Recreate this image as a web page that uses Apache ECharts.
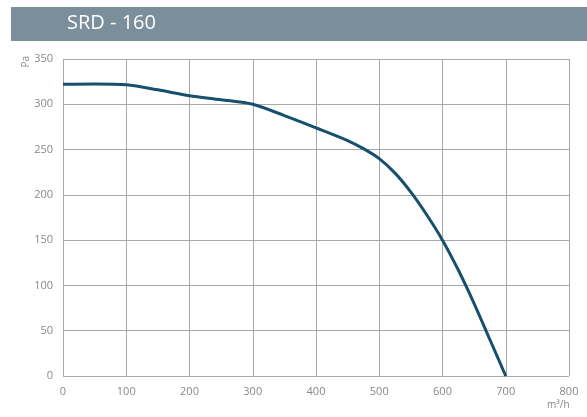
<!DOCTYPE html>
<html>
<head>
<meta charset="utf-8">
<script src="https://cdn.jsdelivr.net/npm/echarts@6/dist/echarts.min.js"></script>
<style>
  html, body { margin: 0; padding: 0; background: #fff; }
  #chart { width: 587px; height: 417px; }
</style>
</head>
<body>
<div id="chart"></div>
<script>
  // airflow (m³/h) vs pressure (Pa)
  var flow = [0, 50, 100, 150, 200, 250, 300, 350, 400, 450, 475, 500, 525, 550, 575, 600, 625, 650, 675, 700]
  var pressure = [322, 322.5, 321.5, 316, 309.5, 305, 300, 287.5, 274, 260, 251, 240, 224, 203, 178, 150, 117, 80, 40, 0]
  var title = 'SRD - 160'

  var chart = echarts.init(document.getElementById('chart'))
  var points = flow.map(function (f, i) { return [f, pressure[i]] })

  chart.setOption({
    animation: false,
    graphic: [
      {
        type: 'rect',
        shape: { x: 11, y: 7, width: 576, height: 34 },
        style: { fill: '#7b8e9b' }
      },
      {
        type: 'text',
        left: 67, top: 13,
        style: { text: title, fill: '#fff', font: '20px "Open Sans", sans-serif' }
      },
      {
        type: 'text',
        left: 21, top: 56,
        rotation: Math.PI / 2,
        style: { text: 'Pa', fill: '#888', font: '10px "Open Sans", sans-serif' }
      },
      {
        type: 'text',
        left: 547, top: 400,
        style: { text: 'm³/h', fill: '#888', font: '10px "Open Sans", sans-serif' }
      }
    ],
    grid: { left: 63, right: 18, top: 59, bottom: 41 },
    xAxis: {
      type: 'value',
      min: 0, max: 800, interval: 100,
      axisLine: { show: false },
      axisTick: { show: false },
      axisLabel: { color: '#888', fontSize: 11, margin: 10, fontFamily: 'Open Sans' },
      splitLine: { show: true, lineStyle: { color: '#a8a8a8', width: 1 } }
    },
    yAxis: {
      type: 'value',
      min: 0, max: 350, interval: 50,
      axisLine: { show: false },
      axisTick: { show: false },
      axisLabel: { color: '#888', fontSize: 11, margin: 10, fontFamily: 'Open Sans' },
      splitLine: { show: true, lineStyle: { color: '#a8a8a8', width: 1 } }
    },
    series: [
      {
        type: 'line',
        data: points,
        smooth: 0.3,
        symbol: 'none',
        lineStyle: { color: '#174f6e', width: 3 }
      }
    ]
  })
</script>
</body>
</html>
